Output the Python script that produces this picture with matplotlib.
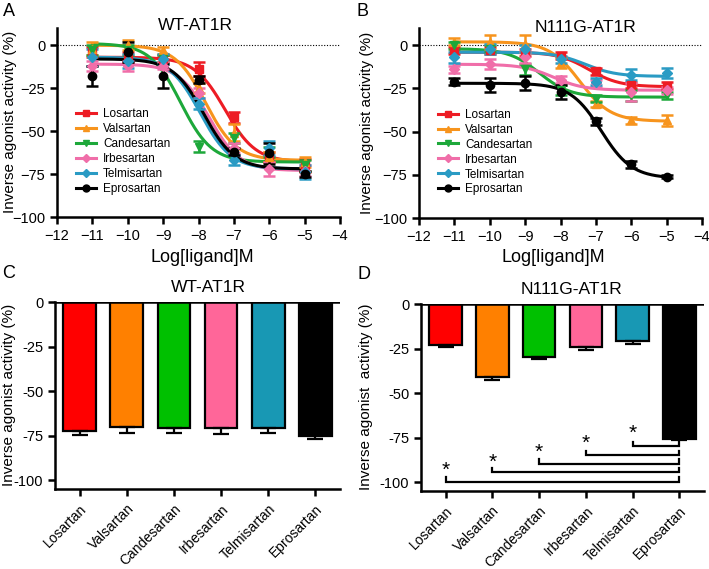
import numpy as np
import matplotlib
matplotlib.use("Agg")
import matplotlib.pyplot as plt
from matplotlib.lines import Line2D

plt.rcParams["font.family"] = ["Liberation Sans", "DejaVu Sans"]

W, H = 709, 569

drugs = ["Losartan", "Valsartan", "Candesartan", "Irbesartan", "Telmisartan", "Eprosartan"]
curve_colours = ["#ED1C24", "#F7941D", "#1DA83A", "#F06EA9", "#2A9BC4", "#000000"]
bar_colours = ["#FF0000", "#FF8000", "#00C000", "#FF6699", "#1898B4", "#000000"]
markers = ["s", "^", "v", "D", "D", "o"]

log_conc = [-11, -10, -9, -8, -7, -6, -5]

# panel A: WT-AT1R concentration-response means / SEM
wt_mean = [
    [-4, -7, -8, -14, -42, -65, -70],
    [-2, 0, -3, -25, -51, -65, -68],
    [-3, -3, -8, -59, -54, -62, -70],
    [-12, -12, -12, -28, -60, -72, -73],
    [-7, -9, -8, -34, -67, -60, -74],
    [-18, -4, -18, -20, -62, -63, -75],
]
wt_sem = [
    [3, 3, 2, 4, 3, 3, 4],
    [4, 3, 2, 3, 5, 3, 3],
    [3, 3, 2, 3, 3, 3, 3],
    [3, 3, 2, 3, 3, 4, 3],
    [5, 4, 3, 3, 3, 4, 4],
    [6, 6, 7, 2, 2, 6, 2],
]
# fitted curve parameters (top, bottom, logEC50)
wt_fit = [
    (-7, -68, -7.25),
    (0, -67, -7.8),
    (1, -68, -8.5),
    (-11, -73, -7.7),
    (-7, -72, -7.95),
    (-8, -72, -7.85),
]

# panel B: N111G-AT1R
mut_mean = [
    [-3, -3, -4, -6, -15, -23, -23.5],
    [2, 2, 1, -10, -34, -43.5, -43.5],
    [0, -2, -14, -26, -31, -29, -29],
    [-14, -11, -7, -20, -22, -27, -26],
    [-7, -2, -2, -8, -21, -17, -16],
    [-21, -23, -22, -27, -44, -69, -76],
]
mut_sem = [
    [2, 2, 2, 2, 2, 2, 2],
    [2, 4, 5, 3, 2, 2, 3],
    [2, 2, 3, 3, 2, 3, 2],
    [2, 3, 3, 2, 2, 5, 2],
    [3, 3, 2, 2, 2, 3, 3],
    [2, 4, 4, 4, 2, 2, 1],
]
mut_fit = [
    (-4, -24, -7.2),
    (2, -44, -7.45),
    (-2, -30, -8.6),
    (-11, -26, -8.2),
    (-4, -18, -7.3),
    (-22, -77, -6.85),
]

# panels C/D: maximal inverse agonism
wt_bar = [-72.3, -70, -71, -70.5, -70.7, -75.3]
wt_bar_err = [2.5, 3.5, 2.5, 3.8, 3, 1.9]
mut_bar = [-23, -41, -29.5, -24, -20.5, -75.7]
mut_bar_err = [1, 1.5, 1.5, 1.7, 1.9, 0.5]

# significance brackets in D (each drug vs Eprosartan)
sig_left = [4, 3, 2, 1, 0]
sig_level = [-80, -85, -89.6, -94.6, -100]
sig_star_y = [-72.5, -78.5, -83.5, -89, -93.5]


def fax(l, t, r, b):
    return fig.add_axes([l / W, 1 - b / H, (r - l) / W, (b - t) / H])


def hill(x, top, bottom, logec50):
    return bottom + (top - bottom) / (1 + 10 ** (x - logec50))


def style(ax):
    for s in ("top", "right"):
        ax.spines[s].set_visible(False)
    for s in ("left", "bottom"):
        ax.spines[s].set_linewidth(1.8)
    ax.tick_params(width=1.8, length=5, labelsize=10.5)


def curve_panel(ax, means, sems, fits):
    ax.axhline(0, color="black", lw=0.8, ls=(0, (1, 1.5)), zorder=1)
    xs = np.linspace(-11, -5, 200)
    handles = []
    for i, d in enumerate(drugs):
        c = curve_colours[i]
        ax.plot(xs, hill(xs, *fits[i]), color=c, lw=2.2, zorder=3)
        ax.errorbar(log_conc, means[i], yerr=sems[i], fmt=markers[i], color=c,
                    ms=6 if markers[i] != "D" else 5, capsize=4, elinewidth=1.8,
                    capthick=1.8, zorder=4)
        handles.append(Line2D([], [], color=c, marker=markers[i], lw=2.2,
                              ms=5 if markers[i] != "D" else 4.5, label=d))
    ax.set_xlim(-12, -4)
    ax.set_ylim(-100, 10)
    ax.set_xticks(range(-12, -3))
    ax.set_xticklabels([f"\u2212{abs(v)}" for v in range(-12, -3)])
    ax.set_yticks([0, -25, -50, -75, -100])
    ax.set_yticklabels(["0", "\u221225", "\u221250", "\u221275", "\u2212100"])
    style(ax)
    ax.legend(handles=handles, loc="upper left", bbox_to_anchor=(0.05, 0.60),
              frameon=False, fontsize=8.5, handlelength=1.7, labelspacing=0.25,
              borderaxespad=0, handletextpad=0.6)


def bar_panel(ax, vals, errs):
    x = np.arange(len(drugs))
    ax.bar(x, vals, width=0.7, color=bar_colours, edgecolor="black", lw=1.6, zorder=2)
    ax.errorbar(x, vals, yerr=[errs, [0] * len(errs)], fmt="none", ecolor="black",
                elinewidth=1.6, capsize=6, capthick=1.6, zorder=3)
    ax.axhline(0, color="black", lw=1.8, zorder=4)
    ax.set_xlim(-0.53, 5.53)
    ax.set_ylim(-105, 0)
    ax.set_xticks(x)
    ax.set_xticklabels(drugs, rotation=45, ha="right", rotation_mode="anchor", fontsize=10)
    ax.set_yticks([0, -25, -50, -75, -100])
    ax.set_yticklabels(["0", "-25", "-50", "-75", "-100"])
    style(ax)
    ax.tick_params(axis="x", labelsize=10, pad=4)


fig = plt.figure(figsize=(W / 100, H / 100), dpi=100)

axA = fax(57, 28, 340, 217)
curve_panel(axA, wt_mean, wt_sem, wt_fit)
axB = fax(419, 28, 702, 218)
curve_panel(axB, mut_mean, mut_sem, mut_fit)

axC = fax(55, 302, 340, 489)
bar_panel(axC, wt_bar, wt_bar_err)
axD = fax(421, 304, 704, 491)
bar_panel(axD, mut_bar, mut_bar_err)

for i, lvl in enumerate(sig_level):
    xl, xr = sig_left[i], 5
    axD.plot([xl, xl, xr, xr], [lvl + 2.6, lvl, lvl, lvl + 2.6], color="black",
             lw=1.6, solid_joinstyle="miter", clip_on=False, zorder=5)
    axD.text(xl, sig_star_y[i], "*", ha="center", va="center", fontsize=15)

# panel letters, titles, axis labels
for lab, x, y in [("A", 9, 12), ("B", 363, 12), ("C", 9, 273), ("D", 364, 274)]:
    fig.text(x / W, 1 - y / H, lab, fontsize=13, ha="center", va="center")
for t, x, y in [("WT-AT1R", 195, 25), ("N111G-AT1R", 586, 27),
                ("WT-AT1R", 208, 287), ("N111G-AT1R", 572, 290)]:
    fig.text(x / W, 1 - y / H, t, fontsize=12.5, ha="center", va="center")
for x in (202, 553):
    fig.text(x / W, 1 - 257 / H, "Log[ligand]M", fontsize=13, ha="center", va="center")
for t, x, y in [("Inverse agonist activity (%)", 10, 122),
                ("Inverse agonist activity (%)", 367, 123),
                ("Inverse agonist activity (%)", 9, 395),
                ("Inverse agonist  activity (%)", 366, 397)]:
    fig.text(x / W, 1 - y / H, t, fontsize=11, ha="center", va="center", rotation=90)

fig.savefig("out.png", dpi=100)
